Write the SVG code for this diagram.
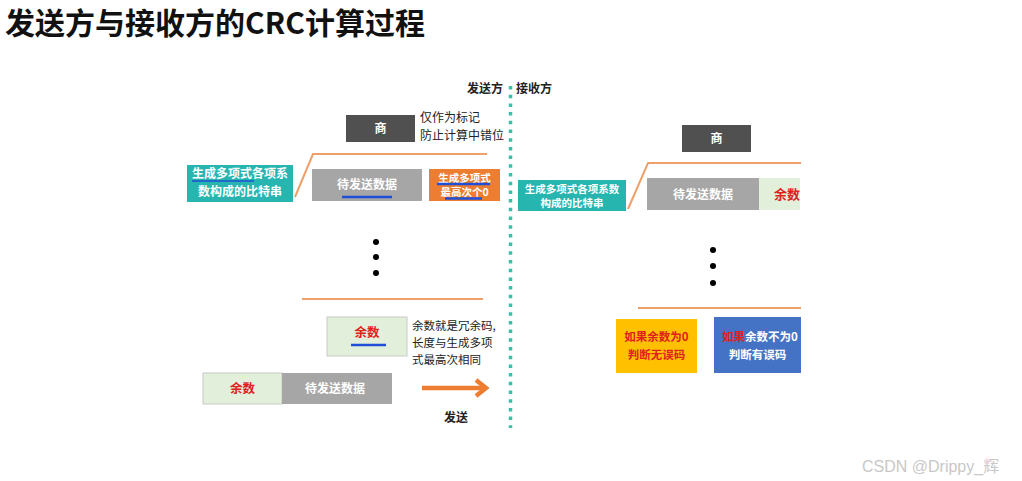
<svg xmlns="http://www.w3.org/2000/svg" width="1022" height="481" viewBox="0 0 1022 481">
<defs>
<style>
text{font-family:"Noto Sans CJK SC","Noto Sans",sans-serif;}
.t{font-size:12px;fill:#222;}
.w{fill:#fff;font-weight:bold;}
.r{fill:#e0201e;font-weight:bold;}
.gray{fill:#a6a6a6;}
.dark{fill:#505050;}
.teal{fill:#27b5b0;}
.grn{fill:#e2efda;stroke:#c8c8c8;stroke-width:1;}
.ul{stroke:#1f4fd6;stroke-width:2.5;}
.ln{stroke:#eda06a;stroke-width:2;fill:none;}
</style>
</defs>
<rect width="1022" height="481" fill="#fff"/>
<text x="5" y="34" style="font-size:30px;font-weight:bold;fill:#111" textLength="420" lengthAdjust="spacingAndGlyphs">发送方与接收方的CRC计算过程</text>

<g id="divider">
<line x1="510.5" y1="86" x2="510.5" y2="428" stroke="#3cbfa8" stroke-width="3.5" stroke-dasharray="3.5 5.2"/>
<text class="t" x="467" y="93" style="font-weight:bold;font-size:12px">发送方</text>
<text class="t" x="516" y="93" style="font-weight:bold;font-size:12px">接收方</text>
</g>

<g id="connectors">
<polyline class="ln" points="295,197 313,154 487,154"/>
<line class="ln" x1="302" y1="299" x2="483" y2="299"/>
<polyline class="ln" points="628,209 648,163 801,163"/>
<line class="ln" x1="638" y1="308" x2="801" y2="308"/>
<g id="send-arrow">
<line x1="422" y1="388" x2="484" y2="388" stroke="#ed7d31" stroke-width="4.5"/>
<polyline points="476,380 486,388 476,396" fill="none" stroke="#ed7d31" stroke-width="4.5"/>
<text class="t" x="444" y="422" style="font-size:12px;font-weight:bold">发送</text>
</g>
</g>

<g id="s-quotient">
<rect class="dark" x="346" y="115" width="69" height="27"/>
<text class="w" x="380.5" y="133" text-anchor="middle" style="font-size:12px">商</text>
</g>
<g id="s-quotient-note">
<text class="t" x="420" y="122">仅作为标记</text>
<text class="t" x="420" y="140">防止计算中错位</text>
</g>
<g id="s-poly">
<rect class="teal" x="187" y="165" width="106" height="37"/>
<text class="w" x="240" y="178" text-anchor="middle" style="font-size:12px">生成多项式各项系</text>
<line class="ul" x1="192" y1="181" x2="254" y2="181" style="stroke-width:1.5"/>
<text class="w" x="240" y="196" text-anchor="middle" style="font-size:12px">数构成的比特串</text>
</g>
<g id="s-data">
<rect class="gray" x="312" y="169" width="110" height="32"/>
<text class="w" x="367" y="189" text-anchor="middle" style="font-size:12px">待发送数据</text>
<line class="ul" x1="342" y1="197" x2="392" y2="197"/>
</g>
<g id="s-zeros">
<rect x="429" y="169" width="71" height="32" fill="#ed7d31"/>
<text class="w" x="464.5" y="182" text-anchor="middle" style="font-size:10.5px">生成多项式</text>
<line class="ul" x1="437" y1="184" x2="490" y2="184"/>
<text class="w" x="464.5" y="196" text-anchor="middle" style="font-size:10.5px">最高次个0</text>
<line class="ul" x1="445" y1="198.5" x2="482" y2="198.5"/>
</g>
<g id="s-dots">
<circle cx="376" cy="242" r="3"/>
<circle cx="376" cy="257" r="3"/>
<circle cx="376" cy="273" r="3"/>
</g>
<g id="s-remainder">
<rect class="grn" x="327" y="317" width="80" height="39"/>
<text class="r" x="367" y="337" text-anchor="middle" style="font-size:12.5px">余数</text>
<line class="ul" x1="351" y1="345" x2="386" y2="345"/>
</g>
<g id="s-remainder-note">
<text class="t" x="412" y="330" style="font-size:11.5px">余数就是冗余码,</text>
<text class="t" x="412" y="347" style="font-size:11.5px">长度与生成多项</text>
<text class="t" x="412" y="364" style="font-size:11.5px">式最高次相同</text>
</g>
<g id="s-frame">
<rect class="grn" x="203" y="373" width="79" height="31"/>
<text class="r" x="242.5" y="393" text-anchor="middle" style="font-size:12.5px">余数</text>
<rect class="gray" x="282" y="373" width="110" height="31"/>
<text class="w" x="335" y="393" text-anchor="middle" style="font-size:12px">待发送数据</text>
</g>

<g id="r-quotient">
<rect class="dark" x="682" y="125" width="69" height="27"/>
<text class="w" x="716.5" y="143" text-anchor="middle" style="font-size:12px">商</text>
</g>
<g id="r-poly">
<rect class="teal" x="518" y="180" width="108" height="31"/>
<text class="w" x="572" y="193" text-anchor="middle" style="font-size:10.5px">生成多项式各项系数</text>
<text class="w" x="572" y="207" text-anchor="middle" style="font-size:10.5px">构成的比特串</text>
</g>
<g id="r-frame">
<rect class="gray" x="647" y="178" width="112" height="32"/>
<text class="w" x="703" y="199" text-anchor="middle" style="font-size:12px">待发送数据</text>
<rect class="grn" x="759" y="178" width="41" height="32" style="stroke:none"/>
<text class="r" x="774" y="199" style="font-size:13px">余数</text>
</g>
<g id="r-dots">
<circle cx="713" cy="250" r="3"/>
<circle cx="713" cy="266" r="3"/>
<circle cx="713" cy="283" r="3"/>
</g>
<g id="r-ok">
<rect x="616" y="319" width="81" height="54" fill="#ffc000"/>
<text class="r" x="656.5" y="341" text-anchor="middle" style="font-size:11.5px">如果余数为0</text>
<text class="r" x="656.5" y="359" text-anchor="middle" style="font-size:11.5px">判断无误码</text>
</g>
<g id="r-err">
<rect x="714" y="317" width="87" height="56" fill="#4472c4"/>
<text x="722" y="341" style="font-size:11.5px;font-weight:bold"><tspan fill="#e0201e">如果</tspan><tspan fill="#fff">余数不为0</tspan></text>
<text class="w" x="757.5" y="359" text-anchor="middle" style="font-size:11.5px">判断有误码</text>
</g>

<text x="862" y="472" style="font-family:'Liberation Sans','Noto Sans CJK SC',sans-serif;font-size:16px;fill:#c8c8c8">CSDN @Drippy_辉</text>
</svg>
